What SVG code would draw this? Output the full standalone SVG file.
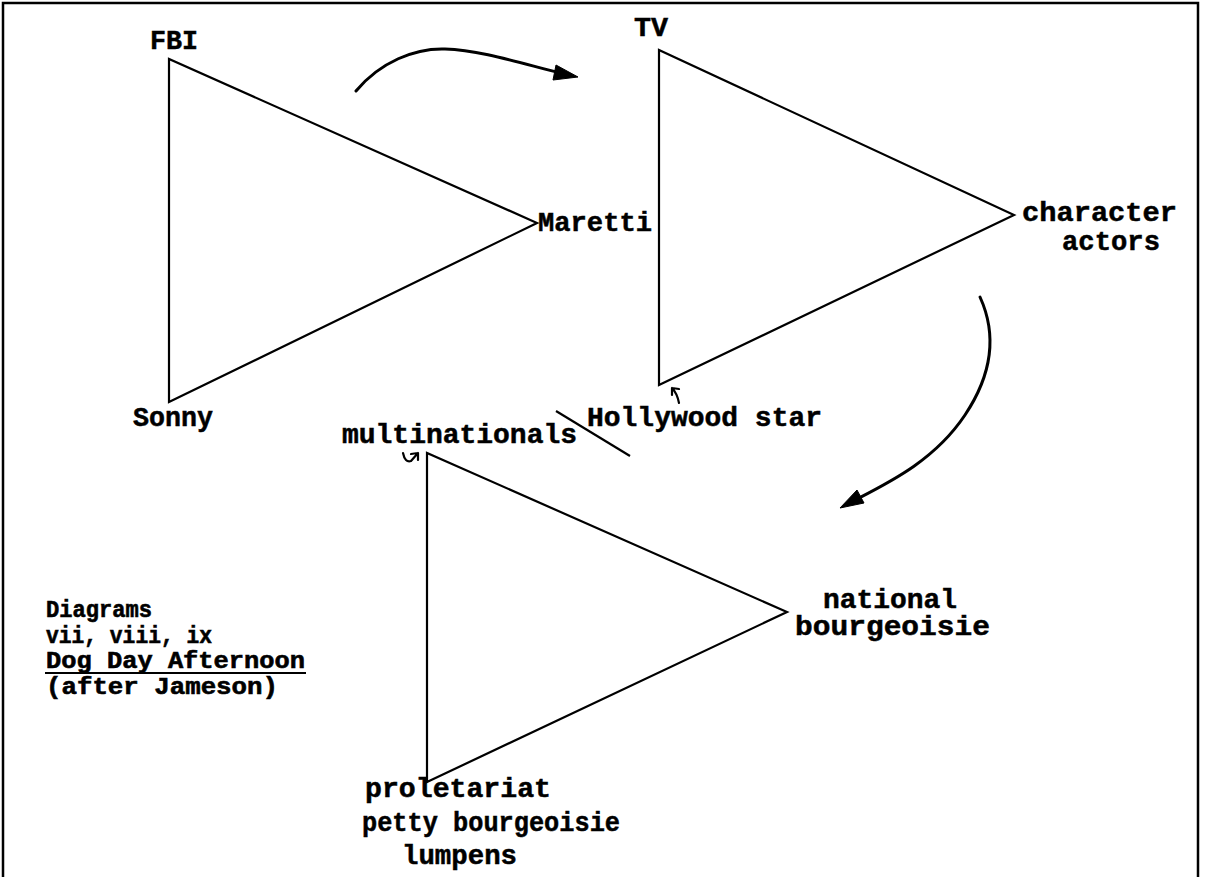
<svg xmlns="http://www.w3.org/2000/svg" width="1209" height="877" viewBox="0 0 1209 877">
<style>
text{font-family:"Liberation Mono","DejaVu Sans Mono",monospace;font-weight:bold;font-size:27px;fill:#000;stroke:#000;stroke-width:0.5}
text.cap{font-size:23px;stroke-width:0.6}
.tri{fill:none;stroke:#000;stroke-width:2.2;stroke-linejoin:miter}
.arc{fill:none;stroke:#000;stroke-width:3;stroke-linecap:round}
.hook{fill:none;stroke:#000;stroke-width:2.2;stroke-linecap:round;stroke-linejoin:round}
.head{fill:#000;stroke:#000;stroke-width:1}
</style>
<rect width="1209" height="877" fill="#fff"/>
<path d="M3,877 L3,3 L1198,3 L1198,877" fill="none" stroke="#000" stroke-width="2.5"/>

<g id="triangle-fbi">
<polygon class="tri" points="169,59 169,402 537,223"/>
<text x="150" y="49" textLength="48" lengthAdjust="spacingAndGlyphs">FBI</text>
<text x="538" y="231" textLength="114" lengthAdjust="spacingAndGlyphs">Maretti</text>
<text x="133" y="426" textLength="80" lengthAdjust="spacingAndGlyphs">Sonny</text>
</g>

<g id="triangle-tv">
<polygon class="tri" points="659,50 659,385 1014,215"/>
<text x="634" y="36" textLength="34" lengthAdjust="spacingAndGlyphs">TV</text>
<text x="1022" y="221" textLength="155" lengthAdjust="spacingAndGlyphs">character</text>
<text x="1062" y="250" textLength="98" lengthAdjust="spacingAndGlyphs">actors</text>
<text x="587" y="426" textLength="235" lengthAdjust="spacingAndGlyphs">Hollywood star</text>
</g>

<g id="triangle-multinationals">
<polygon class="tri" points="427,453 427,782 787,612"/>
<text x="342" y="443" textLength="235" lengthAdjust="spacingAndGlyphs">multinationals</text>
<text x="823" y="608" textLength="134" lengthAdjust="spacingAndGlyphs">national</text>
<text x="795" y="635" textLength="195" lengthAdjust="spacingAndGlyphs">bourgeoisie</text>
<text x="365" y="797" textLength="186" lengthAdjust="spacingAndGlyphs">proletariat</text>
<text x="362" y="831" textLength="258" lengthAdjust="spacingAndGlyphs">petty bourgeoisie</text>
<text x="402" y="864" textLength="115" lengthAdjust="spacingAndGlyphs">lumpens</text>
</g>

<g id="caption">
<text class="cap" x="46" y="617" textLength="106" lengthAdjust="spacingAndGlyphs">Diagrams</text>
<text class="cap" x="46" y="643" textLength="166" lengthAdjust="spacingAndGlyphs">vii, viii, ix</text>
<text class="cap" x="46" y="668" textLength="259" lengthAdjust="spacingAndGlyphs">Dog Day Afternoon</text>
<line x1="45" y1="673" x2="306" y2="673" stroke="#000" stroke-width="2.2"/>
<text class="cap" x="46" y="694" textLength="232" lengthAdjust="spacingAndGlyphs">(after Jameson)</text>
</g>

<g id="connectors">
<path class="arc" d="M356,91 C380,62 415,48 445,49 C480,50 520,63 560,73"/>
<polygon class="head" points="578,77 556,65 553,80"/>
<path class="arc" d="M980,297 C995,330 995,370 965,415 C935,460 890,482 855,500"/>
<polygon class="head" points="840,508 857,490 864,503"/>
<line x1="556" y1="411" x2="630" y2="456" stroke="#000" stroke-width="2.2"/>
<path class="hook" d="M679,403 Q677,393 672,388 M672,388 L679,389 M672,388 L672,395"/>
<path class="hook" d="M403,453 Q405,463 411,461 L418,453 M418,453 L411,454 M418,453 L418,460"/>
</g>
</svg>
